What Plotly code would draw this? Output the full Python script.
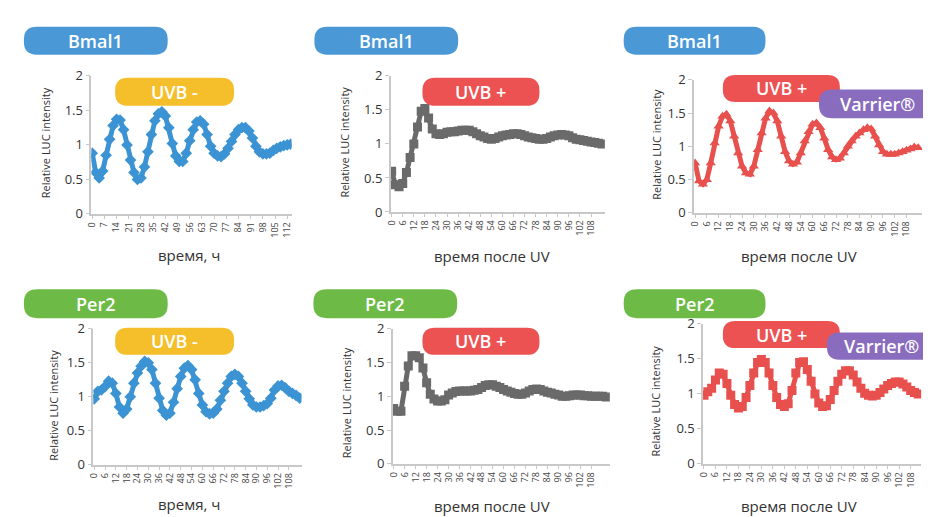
import plotly.graph_objects as go

W, H = 931, 517

# ---------------- data ----------------
hours_a = list(range(0, 116, 2))  # 0..114
hours_b = list(range(0, 118, 2))  # 0..116
hours_c = list(range(0, 114, 2))  # 0..112

bmal1_uvb_minus = [0.88, 0.6, 0.52, 0.62, 0.85, 1.08, 1.28, 1.37, 1.36, 1.22, 1.0, 0.78, 0.6, 0.5,
                   0.52, 0.68, 0.9, 1.15, 1.35, 1.45, 1.48, 1.42, 1.25, 1.02, 0.84, 0.76, 0.76, 0.88,
                   1.06, 1.22, 1.33, 1.35, 1.3, 1.15, 0.98, 0.88, 0.84, 0.83, 0.87, 0.95, 1.05, 1.15,
                   1.22, 1.25, 1.25, 1.2, 1.1, 0.98, 0.9, 0.87, 0.87, 0.88, 0.92, 0.95, 0.97, 0.99,
                   1.0, 1.01]
bmal1_uvb_plus = [0.6, 0.4, 0.37, 0.42, 0.58, 0.8, 1.0, 1.25, 1.48, 1.52, 1.38, 1.22, 1.15, 1.14,
                  1.15, 1.17, 1.18, 1.18, 1.19, 1.2, 1.2, 1.2, 1.18, 1.15, 1.12, 1.1, 1.08, 1.07,
                  1.08, 1.1, 1.12, 1.13, 1.14, 1.15, 1.15, 1.14, 1.12, 1.1, 1.09, 1.08, 1.07, 1.07,
                  1.08, 1.1, 1.12, 1.13, 1.14, 1.13, 1.12, 1.09, 1.07, 1.06, 1.05, 1.04, 1.03, 1.02,
                  1.01, 1.0]
bmal1_varrier = [0.75, 0.48, 0.43, 0.5, 0.75, 1.05, 1.3, 1.45, 1.48, 1.38, 1.15, 0.9, 0.7, 0.6,
                 0.58, 0.7, 0.95, 1.2, 1.42, 1.53, 1.5, 1.38, 1.15, 0.92, 0.78, 0.73, 0.76, 0.9,
                 1.08, 1.22, 1.33, 1.35, 1.28, 1.12, 0.95, 0.84, 0.8, 0.82, 0.9, 1.0, 1.08, 1.15,
                 1.2, 1.25, 1.28, 1.26, 1.15, 1.02, 0.92, 0.88, 0.88, 0.88, 0.9, 0.92, 0.94, 0.96,
                 0.99, 0.98]
per2_uvb_minus = [0.97, 1.08, 1.1, 1.15, 1.23, 1.2, 1.05, 0.85, 0.76, 0.82, 1.0, 1.2, 1.35, 1.45,
                  1.52, 1.5, 1.4, 1.2, 0.98, 0.8, 0.73, 0.76, 0.92, 1.12, 1.3, 1.42, 1.46, 1.4,
                  1.25, 1.05, 0.88, 0.78, 0.75, 0.76, 0.82, 0.95, 1.08, 1.2, 1.3, 1.33, 1.3, 1.2,
                  1.08, 0.97, 0.88, 0.85, 0.85, 0.87, 0.9, 0.98, 1.1, 1.16, 1.17, 1.13, 1.08, 1.05,
                  1.02, 0.98]
per2_uvb_plus = [0.82, 0.78, 0.78, 1.15, 1.45, 1.6, 1.6, 1.57, 1.42, 1.2, 1.03, 0.96, 0.93, 0.93,
                 0.95, 1.02, 1.05, 1.07, 1.08, 1.08, 1.08, 1.08, 1.09, 1.1, 1.13, 1.16, 1.17, 1.17,
                 1.15, 1.13, 1.1, 1.08, 1.06, 1.04, 1.03, 1.03, 1.05, 1.08, 1.1, 1.11, 1.1, 1.08,
                 1.06, 1.05, 1.03, 1.02, 1.0, 1.0, 1.01, 1.02, 1.02, 1.02, 1.01, 1.01, 1.0, 1.0,
                 1.0, 1.0, 0.99]
per2_varrier = [0.98, 1.03, 1.08, 1.2, 1.3, 1.28, 1.15, 0.98, 0.85, 0.8, 0.82, 0.95, 1.12, 1.3,
                1.45, 1.49, 1.45, 1.3, 1.12, 0.95, 0.85, 0.82, 0.86, 1.05, 1.3, 1.45, 1.46, 1.35,
                1.18, 1.0, 0.87, 0.82, 0.83, 0.92, 1.05, 1.18, 1.28, 1.33, 1.33, 1.27, 1.17, 1.08,
                1.01, 0.98, 0.97, 0.98, 1.02, 1.07, 1.12, 1.15, 1.17, 1.17, 1.14, 1.1, 1.05, 1.02,
                1.0]

ticks_7 = list(range(0, 113, 7))
ticks_6 = list(range(0, 109, 6))
y_ticks = [0, 0.5, 1, 1.5, 2]
y_tick_text = ["0", "0.5", "1", "1.5", "2"]

gene_labels = ["Bmal1", "Per2"]
title_h = "время, ч"
title_uv = "время после UV"
y_title = "Relative LUC intensity"

# ---------------- styles ----------------
BLUE = "#3b93d3"
GREY = "#6a6a6a"
RED = "#e8504e"
PILL_BLUE = "#4a98d6"
PILL_GREEN = "#6dbb46"
PILL_YELLOW = "#f4bf2b"
PILL_RED = "#ec5252"
PILL_PURPLE = "#8a6cbf"
FONT = "Open Sans, DejaVu Sans, sans-serif"


def px(x):
    return x / W


def py(y):
    return 1 - y / H


panels = [
    dict(x=hours_a, y=bmal1_uvb_minus, sym="diamond", col=BLUE, tv=ticks_7, xr=[-0.5, 114.5], xd=(78, 280), yd=(61, 204)),
    dict(x=hours_a, y=bmal1_uvb_plus, sym="square", col=GREY, tv=ticks_6, xr=[-0.5, 115.5], xd=(380, 596), yd=(61, 202)),
    dict(x=hours_a, y=bmal1_varrier, sym="triangle-up", col=RED, tv=ticks_6, xr=[-0.5, 116], xd=(686, 916), yd=(65, 203)),
    dict(x=hours_a, y=per2_uvb_minus, sym="diamond", col=BLUE, tv=ticks_6, xr=[-0.5, 115], xd=(80, 290), yd=(323, 464)),
    dict(x=hours_b, y=per2_uvb_plus, sym="square", col=GREY, tv=ticks_6, xr=[-0.5, 118], xd=(382, 601), yd=(323, 463)),
    dict(x=hours_c, y=per2_varrier, sym="square", col=RED, tv=ticks_6, xr=[-0.5, 113.5], xd=(695, 915), yd=(318, 463)),
]

fig = go.Figure()
layout = dict(
    width=W, height=H, autosize=False,
    margin=dict(l=0, r=0, t=0, b=0),
    paper_bgcolor="white", plot_bgcolor="white",
    showlegend=False,
    font=dict(family=FONT, color="#333333"),
)

for i, p in enumerate(panels):
    n = "" if i == 0 else str(i + 1)
    fig.add_trace(go.Scatter(
        x=p["x"], y=p["y"], mode="lines+markers",
        line=dict(color=p["col"], width=5),
        marker=dict(symbol=p["sym"], color=p["col"], size=9, line=dict(width=0)),
        xaxis="x" + n, yaxis="y" + n,
    ))
    layout["xaxis" + n] = dict(
        domain=[px(p["xd"][0]), px(p["xd"][1])], range=p["xr"], anchor="y" + n,
        tickvals=p["tv"], ticktext=[str(v) for v in p["tv"]], tickangle=-90,
        tickfont=dict(size=9, color="#444444"), showgrid=False, zeroline=False,
        showline=True, linecolor="#c8c8c8", linewidth=1.5, ticks="outside", ticklen=3,
        tickcolor="#c8c8c8",
    )
    layout["yaxis" + n] = dict(
        domain=[py(p["yd"][1]), py(p["yd"][0])], range=[0, 2], anchor="x" + n,
        tickvals=y_ticks, ticktext=y_tick_text, tickfont=dict(size=13, color="#333333"),
        showgrid=False, zeroline=False, showline=True, linecolor="#c8c8c8", linewidth=1.5,
        ticks="outside", ticklen=4, tickcolor="#c8c8c8",
    )

fig.update_layout(**layout)


def pill(x0, y0, x1, y1, color, text, size=18):
    r = (y1 - y0) * 0.45
    pts = [
        ("M", [(x0 + r, y0)]), ("L", [(x1 - r, y0)]), ("Q", [(x1, y0), (x1, y0 + r)]),
        ("L", [(x1, y1 - r)]), ("Q", [(x1, y1), (x1 - r, y1)]), ("L", [(x0 + r, y1)]),
        ("Q", [(x0, y1), (x0, y1 - r)]), ("L", [(x0, y0 + r)]), ("Q", [(x0, y0), (x0 + r, y0)]),
    ]
    path = " ".join(c + " " + " ".join(f"{px(a):.5f},{py(b):.5f}" for a, b in pp) for c, pp in pts) + " Z"
    fig.add_shape(type="path", path=path, xref="paper", yref="paper",
                  fillcolor=color, line=dict(width=0), layer="above")
    fig.add_annotation(x=px((x0 + x1) / 2), y=py((y0 + y1) / 2), xref="paper", yref="paper",
                       text=text, showarrow=False, xanchor="center", yanchor="middle",
                       font=dict(size=size, color="white", family=FONT, weight=600))


for (x0, x1) in [(10, 155), (303, 448), (615, 758)]:
    pill(x0, 10, x1, 39, PILL_BLUE, gene_labels[0])
for (x0, x1) in [(10, 155), (302, 447), (615, 758)]:
    pill(x0, 282, x1, 312, PILL_GREEN, gene_labels[1])

pill(102, 63, 222, 92, PILL_YELLOW, "UVB -")
pill(412, 63, 530, 92, PILL_RED, "UVB +")
pill(715, 60, 833, 88, PILL_RED, "UVB +")
pill(812, 75, 930, 105, PILL_PURPLE, "Varrier®")
pill(102, 322, 222, 350, PILL_YELLOW, "UVB -")
pill(412, 322, 530, 350, PILL_RED, "UVB +")
pill(715, 315, 833, 343, PILL_RED, "UVB +")
pill(820, 327, 930, 355, PILL_PURPLE, "Varrier®")

for (x, y) in [(32, 130), (333, 130), (648, 132), (39, 402), (335, 400), (647, 398)]:
    fig.add_annotation(x=px(x), y=py(y), xref="paper", yref="paper", text=y_title,
                       textangle=-90, showarrow=False, xanchor="center", yanchor="middle",
                       font=dict(size=11, color="#333333", family=FONT))
for (x, y, t) in [(177, 247, title_h), (482, 248, title_uv), (792, 248, title_uv),
                  (177, 505, title_h), (482, 507, title_uv), (792, 507, title_uv)]:
    fig.add_annotation(x=px(x), y=py(y), xref="paper", yref="paper", text=t,
                       showarrow=False, xanchor="center", yanchor="middle",
                       font=dict(size=15, color="#333333", family=FONT))

fig.write_html("out.html")
